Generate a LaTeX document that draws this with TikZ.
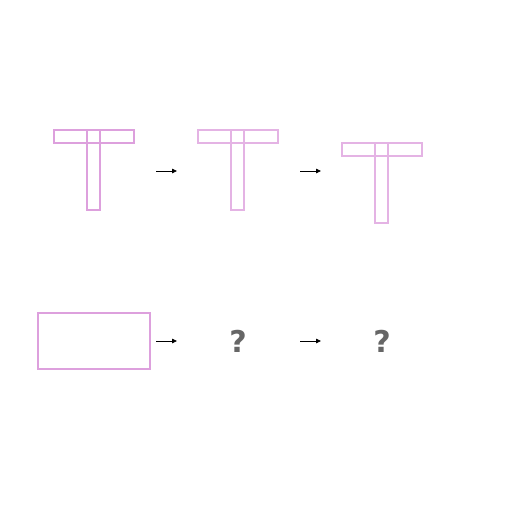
\documentclass[tikz,border=0pt]{standalone}
\usepackage{fontspec}
\newfontfamily\qfont{DejaVu Sans}
\usetikzlibrary{arrows.meta}
\definecolor{plum}{HTML}{DDA0DD}
\definecolor{qgray}{HTML}{666666}
\tikzset{
  shapeA/.style={draw=plum, line width=2.5pt},
  shapeB/.style={draw=plum!80, line width=1.3pt},
  arr/.style={-{Triangle[length=5pt,width=4.5pt]}, line width=0.8pt, black},
  qmark/.style={font=\qfont\bfseries\fontsize{30}{31}\selectfont, text=qgray, inner sep=0pt}
}
\begin{document}
\begin{tikzpicture}[x=1pt,y=-1pt]
\useasboundingbox (0,0) rectangle (512,512);
\fill[white] (0,0) rectangle (512,512);
% T1
\draw[shapeA] (54,130) rectangle (134,143);
\draw[shapeA] (87,130) rectangle (100,210);
% T2
\draw[shapeB] (198,130) rectangle (278,143);
\draw[shapeB] (231,130) rectangle (244,210);
% T3
\draw[shapeB] (342,143) rectangle (422,156);
\draw[shapeB] (375,143) rectangle (388,223);
% rect
\draw[shapeA] (38,313) rectangle (150,369);
% arrows
\coordinate (a1s) at (156,171); \coordinate (a1e) at (177,171);
\coordinate (a2s) at (300,171); \coordinate (a2e) at (321,171);
\coordinate (b1s) at (156,341); \coordinate (b1e) at (177,341);
\coordinate (b2s) at (300,341); \coordinate (b2e) at (321,341);
\draw[arr] (a1s) -- (a1e);
\draw[arr] (a2s) -- (a2e);
\draw[arr] (b1s) -- (b1e);
\draw[arr] (b2s) -- (b2e);
\node[qmark] (q1) at (238,341) {?};
\node[qmark] (q2) at (382,341) {?};
\end{tikzpicture}
\end{document}
